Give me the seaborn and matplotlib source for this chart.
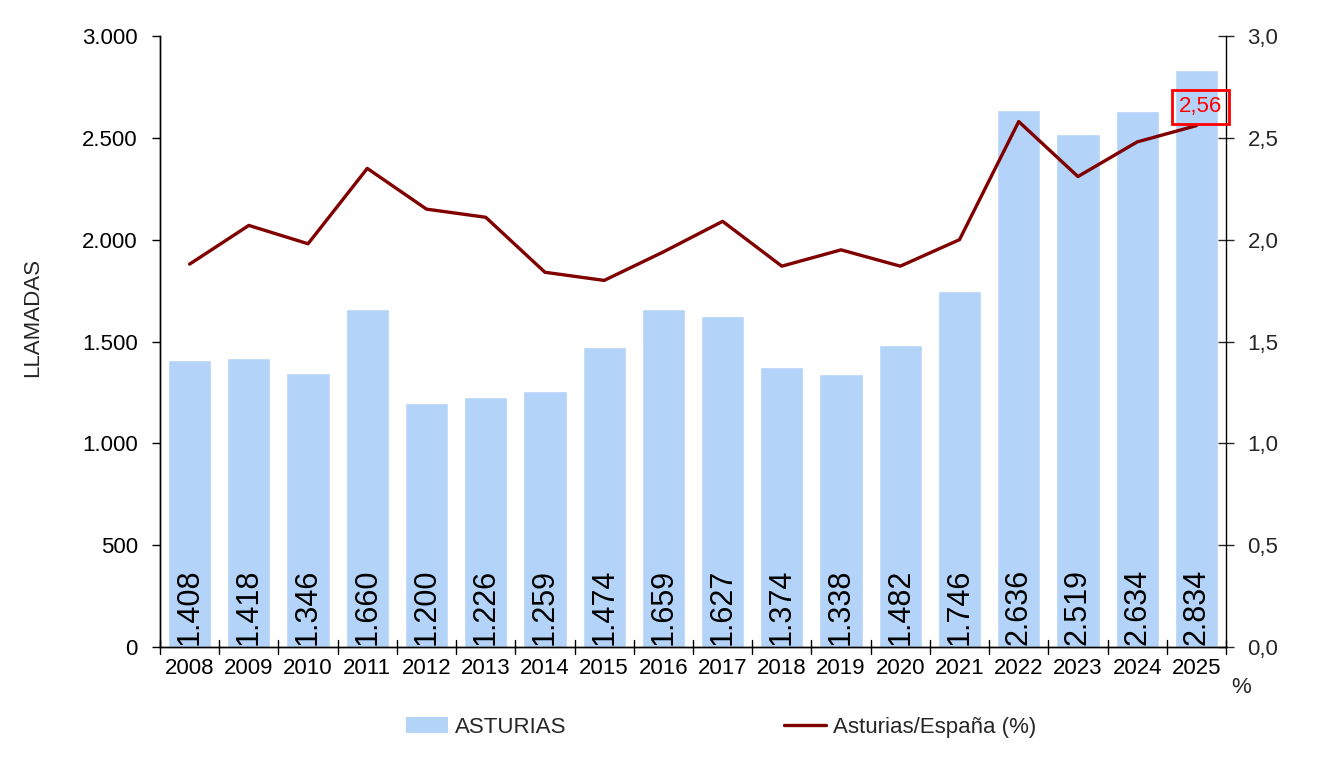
import matplotlib
matplotlib.use('Agg')
import matplotlib.pyplot as plt
import numpy as np
import pandas as pd
import seaborn as sns
from matplotlib.patches import Patch
from matplotlib.lines import Line2D

years = ['2008', '2009', '2010', '2011', '2012', '2013', '2014', '2015', '2016',
         '2017', '2018', '2019', '2020', '2021', '2022', '2023', '2024', '2025']
llamadas = [1408, 1418, 1346, 1660, 1200, 1226, 1259, 1474, 1659,
            1627, 1374, 1338, 1482, 1746, 2636, 2519, 2634, 2834]
pct_espana = [1.88, 2.07, 1.98, 2.35, 2.15, 2.11, 1.84, 1.80, 1.94,
              2.09, 1.87, 1.95, 1.87, 2.00, 2.58, 2.31, 2.48, 2.56]

bar_color = '#B3D3F8'
line_color = '#800000'

sns.set_style('ticks')
plt.rcParams['font.family'] = ['Liberation Sans', 'DejaVu Sans']

df = pd.DataFrame({'year': years, 'llamadas': llamadas, 'pct': pct_espana})

fig = plt.figure(figsize=(13.3, 7.6), dpi=100)
ax = fig.add_axes([0.1203, 0.1487, 0.8015, 0.8039])

sns.barplot(data=df, x='year', y='llamadas', color=bar_color, width=0.73,
            saturation=1, ax=ax)
ax.set_xlim(-0.5, len(years) - 0.5)
ax.set_ylim(0, 3000)
ax.set_yticks(range(0, 3001, 500))
ax.set_yticklabels([f'{v:,}'.replace(',', '.') for v in range(0, 3001, 500)])
ax.set_xlabel('')
ax.set_ylabel('LLAMADAS', fontsize=16)
ax.yaxis.set_label_coords(-0.11, 0.54)
ax.tick_params(axis='y', labelsize=16, length=6, width=1, direction='out', pad=10, colors='black')
ax.tick_params(axis='x', labelsize=16, length=0, pad=8, colors='black')
# x ticks between categories, crossing the axis
for i in range(len(years) + 1):
    ax.plot([i - 0.5, i - 0.5], [-35, 35], color='black', lw=1, clip_on=False, zorder=5)

for i, v in enumerate(llamadas):
    ax.text(i, 12, f'{v:,}'.replace(',', '.'), rotation=90, ha='center', va='bottom',
            fontsize=22, color='black')

ax2 = ax.twinx()
sns.lineplot(x=np.arange(len(years)), y=pct_espana, color=line_color, lw=2.4, ax=ax2)
ax2.set_ylim(0, 3.0)
ax2.set_yticks(np.arange(0, 3.01, 0.5))
ax2.set_yticklabels([f'{v:.1f}'.replace('.', ',') for v in np.arange(0, 3.01, 0.5)])
ax2.tick_params(axis='y', labelsize=16, length=11, width=1, direction='inout', pad=10)

for a in (ax, ax2):
    a.spines['top'].set_visible(False)
    for s in ('left', 'right', 'bottom'):
        a.spines[s].set_linewidth(1)
        a.spines[s].set_color('black')
ax.spines['right'].set_visible(False)

ax2.text(len(years) - 0.93, pct_espana[-1] + 0.04, '2,56', color='red',
         fontsize=16, ha='center', va='bottom',
         bbox=dict(boxstyle='square,pad=0.3', fc='none', ec='red', lw=2))

fig.text(0.9335, 0.095, '%', fontsize=16, ha='center', va='center')

handles = [Patch(facecolor=bar_color, edgecolor='none'),
           Line2D([0], [0], color=line_color, lw=2.4)]
fig.legend(handles, ['ASTURIAS', 'Asturias/España (%)'], loc='center',
           bbox_to_anchor=(0.542, 0.043), ncol=2, frameon=False, fontsize=16,
           columnspacing=9.8, handlelength=1.9, handletextpad=0.3)

fig.savefig('out.png', dpi=100)
